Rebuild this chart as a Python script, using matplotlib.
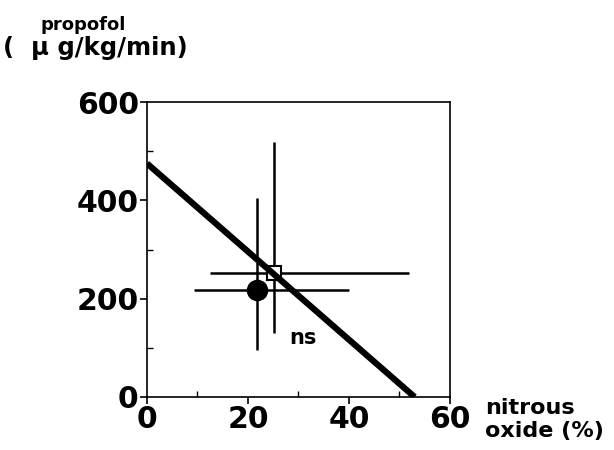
import matplotlib.pyplot as plt
from matplotlib.ticker import MultipleLocator

# Data
n2o_mean = [21.8, 25.1]           # % nitrous oxide
n2o_err_lo = [12.5, 12.6]
n2o_err_hi = [18.2, 26.8]
prop_mean = [217, 252]            # propofol ug/kg/min
prop_err_lo = [122, 122]
prop_err_hi = [187, 266]
markers = ['o', 's']
fills = ['black', 'white']
sizes = [14, 10]

line_x = [0, 53]
line_y = [475, 0]

plt.rcParams['font.family'] = 'DejaVu Sans'
fig = plt.figure(figsize=(6.14, 4.5), dpi=100)
ax = fig.add_axes([0.2394, 0.1178, 0.4935, 0.6555])

ax.plot(line_x, line_y, color='black', lw=4.5, solid_capstyle='butt', zorder=5)

for i in range(len(n2o_mean)):
    ax.errorbar(n2o_mean[i], prop_mean[i],
                xerr=[[n2o_err_lo[i]], [n2o_err_hi[i]]],
                yerr=[[prop_err_lo[i]], [prop_err_hi[i]]],
                fmt=markers[i], color='black', mfc=fills[i], mec='black',
                ms=sizes[i], mew=1.5, elinewidth=1.8, capsize=0, zorder=4)

ax.text(30.8, 120, 'ns', fontsize=15, fontweight='bold', ha='center', va='center')

ax.set_xlim(0, 60)
ax.set_ylim(0, 600)
ax.set_xticks([0, 20, 40, 60])
ax.set_yticks([0, 200, 400, 600])
ax.xaxis.set_minor_locator(MultipleLocator(10))
ax.yaxis.set_minor_locator(MultipleLocator(100))
ax.tick_params(which='major', direction='out', length=5, width=1.2,
               labelsize=21.5, pad=1)
ax.tick_params(which='minor', direction='in', length=4, width=1)
for lab in ax.get_xticklabels() + ax.get_yticklabels():
    lab.set_fontweight('bold')
for s in ax.spines.values():
    s.set_linewidth(1.2)

fig.text(0.135, 0.945, 'propofol', fontsize=13, fontweight='bold', ha='center', va='center')
fig.text(0.005, 0.893, '(  \u03bc g/kg/min)', fontsize=17.5, fontweight='bold', ha='left', va='center')
fig.text(0.79, 0.068, 'nitrous\noxide (%)', fontsize=16, fontweight='bold',
         ha='left', va='center', linespacing=1.15)

fig.savefig('out.png', dpi=100)
